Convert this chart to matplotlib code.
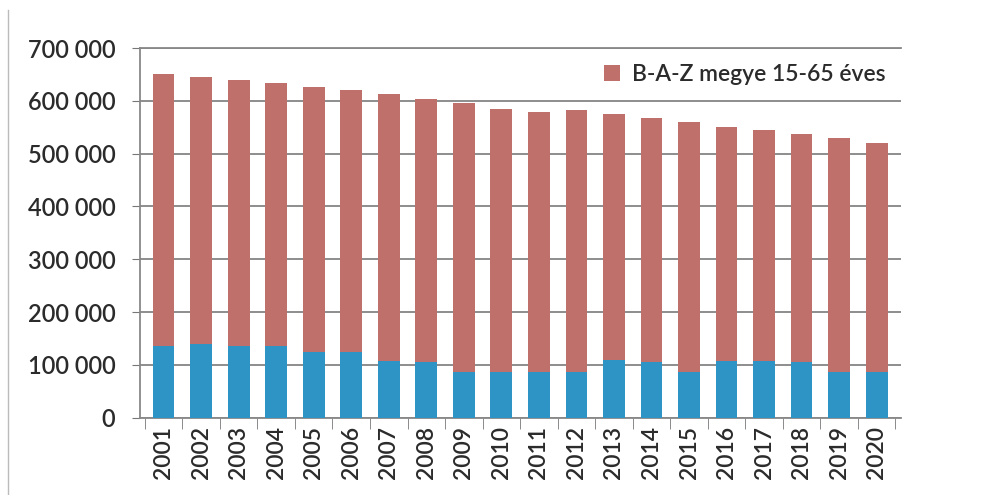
import matplotlib.pyplot as plt
import numpy as np

years = [str(y) for y in range(2001, 2021)]
# B-A-Z megye 15-65 eves (red bars)
baz_1565 = [650000, 645000, 639000, 633000, 627000, 621000, 613000, 604000, 595000, 585000,
            579000, 582000, 576000, 568000, 560000, 551000, 544000, 537000, 530000, 521000]
# second series shown in front (blue bars, no legend entry)
blue_vals = [135000, 139000, 135000, 135000, 125000, 125000, 107000, 106000, 87000, 87000,
             86000, 86000, 109000, 105000, 86000, 108000, 108000, 106000, 87000, 87000]
yticks = [0, 100000, 200000, 300000, 400000, 500000, 600000, 700000]

plt.rcParams['font.family'] = ['Lato', 'DejaVu Sans']

fig = plt.figure(figsize=(9.88, 4.95), dpi=100)
ax = fig.add_axes([0.142, 0.156, 0.77, 0.747])

x = np.arange(len(years))
ax.bar(x, baz_1565, width=0.58, color='#C0706A', label='B-A-Z megye 15-65 éves', zorder=2)
ax.bar(x, blue_vals, width=0.58, color='#2E93C5', zorder=3)

ax.set_ylim(0, 700000)
ax.set_xlim(-0.62, 19.65)
ax.set_yticks(yticks)
ax.set_yticklabels([f"{v:,}".replace(",", " ") for v in yticks], fontsize=17,
                   color='#2b2b2b', fontweight='semibold')
ax.set_xticks(x)
ax.set_xticklabels(years, rotation=90, fontsize=16.5, color='#2b2b2b', fontweight='semibold')
ax.set_xticks(np.arange(-0.5, 20, 1), minor=True)
ax.tick_params(axis='x', which='major', length=0, pad=6)
ax.tick_params(axis='x', which='minor', length=8, color='#777777')
ax.tick_params(axis='y', length=6, color='#777777', pad=12)

ax.grid(axis='y', color='#7a7a7a', linewidth=1.2, zorder=0)
for s in ['left', 'bottom', 'top']:
    ax.spines[s].set_color('#888888')
    ax.spines[s].set_linewidth(1.3)
ax.spines['right'].set_visible(False)

ax.legend(loc='upper right', frameon=False, prop={'size': 16.5, 'weight': 'semibold'},
          handlelength=0.7, handleheight=0.7, handletextpad=0.5, borderaxespad=0.3,
          labelcolor='#2b2b2b')

fig.add_artist(plt.Line2D([0.008, 0.008], [0.0, 0.98], color='#bbbbbb', linewidth=1))

plt.savefig('out.png', dpi=100)
